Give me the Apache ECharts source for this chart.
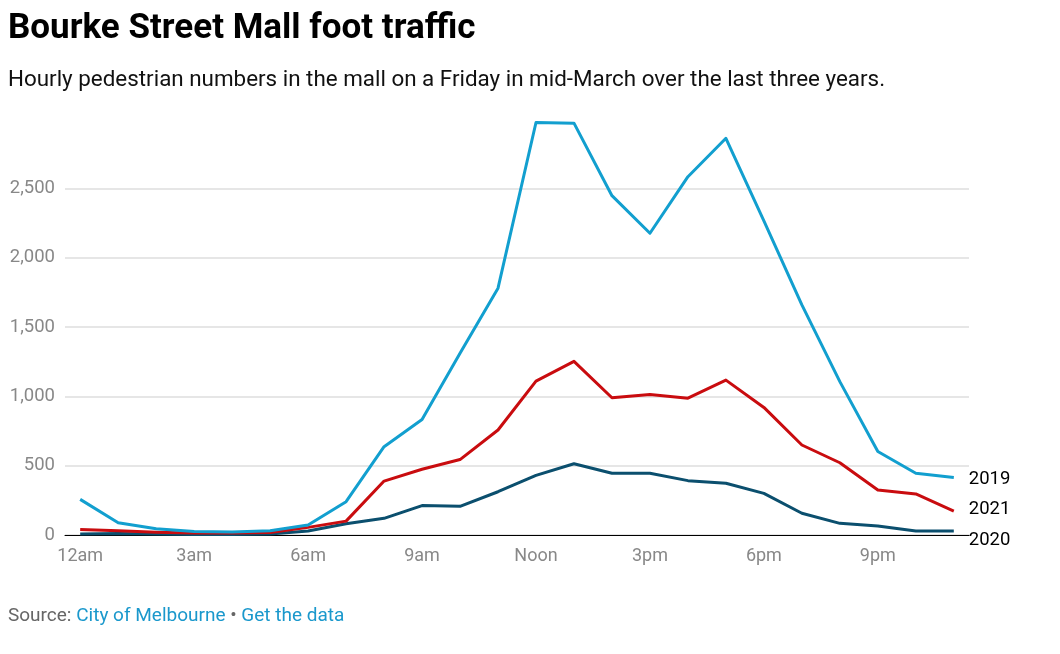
<!DOCTYPE html>
<html>
<head>
<meta charset="utf-8">
<script src="https://cdn.jsdelivr.net/npm/echarts@6/dist/echarts.min.js"></script>
<style>
  html, body { margin: 0; padding: 0; background: #fff; }
  #chart { width: 1060px; height: 654px; }
</style>
</head>
<body>
<div id="chart"></div>
<script>
// Hours of the day (0 = 12am ... 23 = 11pm)
const hours = [0,1,2,3,4,5,6,7,8,9,10,11,12,13,14,15,16,17,18,19,20,21,22,23];
// Tick positions and labels on the x axis
const tickHours = [0, 3, 6, 9, 12, 15, 18, 21];
const tickLabels = ['12am', '3am', '6am', '9am', 'Noon', '3pm', '6pm', '9pm'];
// Y axis tick values
const yTicks = [0, 500, 1000, 1500, 2000, 2500];

// Hourly pedestrian counts
const y2019 = [257, 89, 45, 25, 22, 31, 72, 240, 637, 833, 1310, 1780, 2975, 2970, 2447, 2176, 2584, 2861, 2265, 1659, 1106, 602, 445, 415];
const y2021 = [40, 31, 20, 14, 14, 18, 55, 100, 389, 474, 544, 757, 1110, 1252, 990, 1013, 987, 1117, 920, 649, 521, 324, 296, 173];
const y2020 = [8, 11, 7, 3, 4, 7, 29, 81, 120, 212, 207, 312, 430, 514, 445, 445, 392, 373, 300, 157, 84, 65, 29, 29];

const seriesNames = ['2019', '2021', '2020'];
const seriesColors = ['#129fcf', '#c90c0f', '#0b4f6e'];
const labelOffsets = [[0, 2], [0, -2], [0, 9]];

function pairs(vals) { return hours.map((h, i) => [h, vals[i]]); }

const chart = echarts.init(document.getElementById('chart'), null, { renderer: 'canvas' });

const FONT = 'Roboto, "Noto Sans", sans-serif';

const option = {
  animation: false,
  backgroundColor: '#ffffff',
  title: [
    {
      text: 'Bourke Street Mall foot traffic',
      left: 8, top: 12, padding: 0,
      textStyle: { fontFamily: FONT, fontWeight: 'bold', fontSize: 35, color: '#000' }
    },
    {
      text: 'Hourly pedestrian numbers in the mall on a Friday in mid-March over the last three years.',
      left: 8, top: 69, padding: 0,
      textStyle: { fontFamily: FONT, fontWeight: 'normal', fontSize: 22.4, color: '#111' }
    },
    {
      text: '{g|Source: }{b|City of Melbourne}{g| • }{b|Get the data}',
      left: 8, top: 607, padding: 0,
      textStyle: {
        fontFamily: FONT, fontSize: 19, fontWeight: 'normal',
        rich: {
          g: { fontFamily: FONT, fontSize: 19, fontWeight: 'normal', color: '#666' },
          b: { fontFamily: FONT, fontSize: 19, fontWeight: 'normal', color: '#1a98cc' }
        }
      }
    }
  ],
  grid: { left: 65, right: 91, top: 119, bottom: 119, containLabel: false },
  xAxis: {
    type: 'value',
    min: -0.4, max: 23.4,
    axisLine: { show: true, onZero: true, lineStyle: { color: '#000', width: 1 } },
    axisTick: { show: false },
    splitLine: { show: false },
    axisLabel: {
      customValues: tickHours,
      formatter: (v) => { const i = tickHours.indexOf(v); return i >= 0 ? tickLabels[i] : ''; },
      fontFamily: FONT, fontSize: 18, color: '#888', margin: 12
    }
  },
  yAxis: {
    type: 'value',
    min: 0, max: 3000, interval: 500,
    axisLine: { show: false },
    axisTick: { show: false },
    splitLine: { show: true, showMaxLine: false, lineStyle: { color: '#dedede', width: 1.5 } },
    axisLabel: {
      customValues: yTicks,
      formatter: (v) => v.toLocaleString('en-US'),
      fontFamily: FONT, fontSize: 18.5, color: '#888', margin: 10
    }
  },
  series: seriesNames.map((name, k) => ({
    name: name,
    type: 'line',
    data: pairs([y2019, y2021, y2020][k]),
    showSymbol: false,
    symbol: 'none',
    lineStyle: { color: seriesColors[k], width: 3, join: 'round' },
    itemStyle: { color: seriesColors[k] },
    z: 3 - k,
    endLabel: {
      show: true,
      formatter: name,
      distance: 15,
      offset: labelOffsets[k],
      fontFamily: FONT, fontSize: 18.5, color: '#000'
    },
    emphasis: { disabled: true }
  }))
};

chart.setOption(option);
</script>
</body>
</html>
